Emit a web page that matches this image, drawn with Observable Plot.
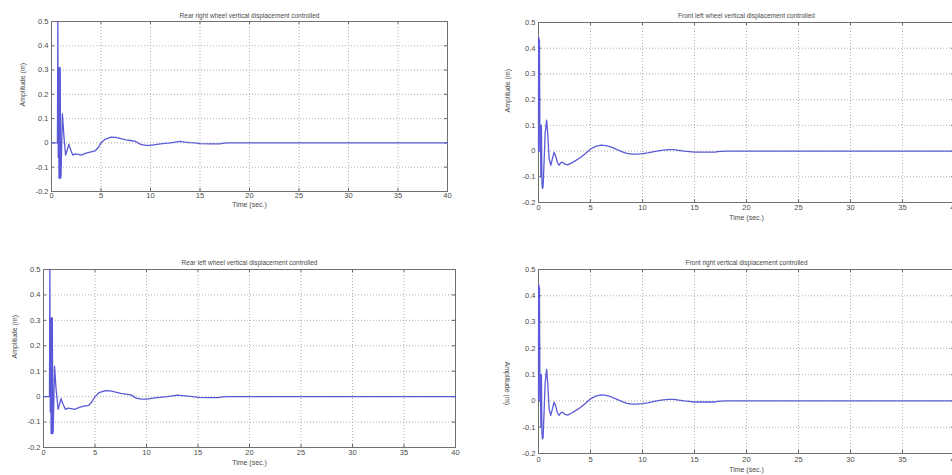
<!DOCTYPE html>
<html>
<head>
<meta charset="utf-8">
<script src="https://cdn.jsdelivr.net/npm/d3@7"></script>
<script src="https://cdn.jsdelivr.net/npm/@observablehq/plot@0.6"></script>
<style>
  html, body { margin: 0; padding: 0; background: #fff; overflow: hidden; }
  #wrap { position: relative; width: 952px; height: 475px; overflow: hidden; background: #fff; }
  .panel { position: absolute; }
  .panel svg { overflow: visible; max-width: none !important; }
</style>
</head>
<body>
<div id="wrap"></div>
<script>
// ---- Data ----
const titles = [
  "Rear right wheel vertical displacement controlled",
  "Front left wheel vertical displacement controlled",
  "Rear left wheel vertical displacement controlled",
  "Front right vertical displacement controlled"
];
const xLabel = "Time (sec.)";
const yLabel = "Amplitude (m)";
const xTicks = [0, 5, 10, 15, 20, 25, 30, 35, 40];
const xTickLabels = ["0", "5", "10", "15", "20", "25", "30", "35", "40"];
const yTicks = [-0.2, -0.1, 0, 0.1, 0.2, 0.3, 0.4, 0.5];
const yTickLabels = ["-0.2", "-0.1", "0", "0.1", "0.2", "0.3", "0.4", "0.5"];

// Rear right wheel
const timeRR = [0, 0.6, 0.64, 0.68, 0.72, 0.76, 0.8, 0.84, 0.88, 0.92, 0.96,
  1.1, 1.25, 1.42, 1.58, 1.75, 1.95, 2.15, 2.4, 2.7, 3.0,
  3.5, 4.0, 4.4, 4.7, 5.0, 5.4, 6.0, 6.5, 7.0, 7.5,
  8.0, 8.5, 9.0, 9.5, 10, 10.5, 11, 11.5, 12, 12.5,
  13, 13.5, 14, 14.5, 15, 16, 17, 17.4, 18, 40];
const ampRR = [0, 0, 0.5, -0.06, 0.31, -0.145, 0.31, -0.145, 0.31, -0.145, -0.14,
  0.12, 0.03, -0.05, -0.03, -0.005, -0.03, -0.05, -0.045, -0.047, -0.05,
  -0.042, -0.037, -0.033, -0.02, 0.0, 0.015, 0.024, 0.023, 0.018, 0.013,
  0.01, 0.006, -0.006, -0.01, -0.01, -0.007, -0.004, -0.002, 0.0, 0.003,
  0.006, 0.003, 0.001, 0.0, -0.003, -0.004, -0.004, -0.001, 0, 0];

// Rear left wheel
const timeRL = [0, 0.58, 0.62, 0.66, 0.7, 0.74, 0.78, 0.82, 0.86, 0.9, 0.94,
  1.07, 1.22, 1.42, 1.56, 1.7, 1.9, 2.13, 2.4, 2.7, 3.0,
  3.5, 3.9, 4.4, 4.7, 5.0, 5.4, 6.0, 6.5, 7.0, 7.5,
  8.0, 8.5, 9.0, 9.5, 10, 10.5, 11, 11.5, 12, 12.5,
  13, 13.5, 14, 14.5, 15, 16, 17, 17.4, 18, 40];
const ampRL = [0, 0, 0.5, -0.06, 0.31, -0.145, 0.31, -0.145, 0.31, -0.145, -0.14,
  0.12, 0.03, -0.05, -0.03, -0.008, -0.03, -0.05, -0.045, -0.047, -0.05,
  -0.042, -0.037, -0.034, -0.02, 0.0, 0.016, 0.024, 0.023, 0.018, 0.013,
  0.01, 0.007, -0.006, -0.01, -0.01, -0.007, -0.004, -0.002, 0.0, 0.003,
  0.006, 0.004, 0.002, 0.0, -0.003, -0.004, -0.004, -0.001, 0, 0];

// Front left wheel
const timeFL = [0, 0.01, 0.03, 0.05, 0.07, 0.09, 0.11, 0.14, 0.18, 0.23, 0.28, 0.33, 0.38, 0.44,
  0.52, 0.64, 0.78, 0.9, 1.02, 1.18, 1.34, 1.5, 1.66, 1.82, 1.98, 2.15, 2.3, 2.5, 2.8,
  3.2, 3.6, 4.0, 4.5, 5.0, 5.5, 6.0, 6.5, 7.0, 7.5, 8.0, 8.5, 9.0, 9.5, 10, 10.5, 11,
  11.5, 12, 12.5, 13, 13.5, 14, 14.5, 15, 16, 17, 17.2, 18, 40];
const ampFL = [0, 0.44, 0.27, 0.44, 0.27, 0.43, 0.27, 0.0, 0.1, -0.1, 0.1, -0.12, -0.145, -0.14,
  -0.06, 0.07, 0.12, 0.06, -0.03, -0.055, -0.03, -0.005, -0.02, -0.045, -0.055, -0.045, -0.043, -0.05, -0.054,
  -0.046, -0.036, -0.026, -0.01, 0.008, 0.018, 0.023, 0.021, 0.015, 0.007, -0.002, -0.009, -0.012, -0.012, -0.01, -0.007, -0.003,
  0.001, 0.004, 0.006, 0.006, 0.003, 0.0, -0.002, -0.004, -0.004, -0.004, -0.002, 0, 0];

// Front right wheel
const timeFR = [0, 0.01, 0.03, 0.05, 0.07, 0.09, 0.11, 0.14, 0.18, 0.23, 0.28, 0.33, 0.38, 0.44,
  0.52, 0.64, 0.78, 0.9, 1.02, 1.18, 1.34, 1.5, 1.66, 1.82, 1.98, 2.15, 2.3, 2.5, 2.8,
  3.2, 3.6, 4.0, 4.5, 5.0, 5.5, 6.0, 6.5, 7.0, 7.5, 8.0, 8.5, 9.0, 9.5, 10, 10.5, 11,
  11.5, 12, 12.5, 13, 13.5, 14, 14.5, 15, 16, 17, 17.2, 18, 40];
const ampFR = [0, 0.44, 0.27, 0.44, 0.27, 0.43, 0.27, 0.0, 0.1, -0.1, 0.1, -0.12, -0.145, -0.14,
  -0.06, 0.07, 0.12, 0.06, -0.03, -0.055, -0.03, -0.005, -0.02, -0.045, -0.055, -0.045, -0.043, -0.05, -0.054,
  -0.046, -0.036, -0.026, -0.01, 0.008, 0.018, 0.023, 0.021, 0.015, 0.007, -0.002, -0.009, -0.012, -0.012, -0.01, -0.007, -0.003,
  0.001, 0.004, 0.006, 0.006, 0.003, 0.0, -0.002, -0.004, -0.004, -0.004, -0.002, 0, 0];

// ---- Layout ----
const FONT = "'Liberation Sans', Arial, sans-serif";
const TXT = "#4a4a4a";
const LINE = "#5a5ad8";

const panels = [
  {title: titles[0], t: timeRR, v: ampRR, left: 0, top: 0, width: 460, height: 215,
   mL: 51, mR: 13, mT: 21, mB: 24, xPad: 1.5, titleDy: -8, timeDy: 15, yLabDx: -29, yRot: -90},
  {title: titles[1], t: timeFL, v: ampFL, left: 470, top: 0, width: 490, height: 230,
   mL: 68, mR: 6, mT: 22, mB: 28, xPad: 2.5, titleDy: -9, timeDy: 17, yLabDx: -31, yRot: -90},
  {title: titles[2], t: timeRL, v: ampRL, left: 0, top: 240, width: 465, height: 235,
   mL: 43, mR: 10, mT: 29, mB: 28, xPad: 2.5, titleDy: -9, timeDy: 17.5, yLabDx: -29, yRot: -90},
  {title: titles[3], t: timeFR, v: ampFR, left: 470, top: 240, width: 490, height: 235,
   mL: 68, mR: 6, mT: 29, mB: 22, xPad: 3.5, titleDy: -9, timeDy: 18.5, yLabDx: -31, yRot: 90}
];

const wrap = document.getElementById("wrap");

for (const p of panels) {
  const plotH = p.height - p.mT - p.mB;
  const plotW = p.width - p.mL - p.mR;
  const xTickLen = 3 / plotH * 0.7;   // inward tick length in y units
  const yTickLen = 3 / plotW * 40;    // inward tick length in x units
  const chart = Plot.plot({
    width: p.width,
    height: p.height,
    marginLeft: p.mL,
    marginRight: p.mR,
    marginTop: p.mT,
    marginBottom: p.mB,
    style: {fontFamily: FONT, background: "transparent", color: TXT, maxWidth: "none"},
    x: {domain: [0, 40], label: null},
    y: {domain: [-0.2, 0.5], label: null},
    marks: [
      Plot.ruleX(xTicks.slice(1, -1), {x: d => d, stroke: "#9a9a9a", strokeDasharray: "1,2", strokeWidth: 0.8}),
      Plot.ruleY(yTicks.slice(1, -1), {y: d => d, stroke: "#9a9a9a", strokeDasharray: "1,2", strokeWidth: 0.8}),
      // inward ticks on all four sides
      Plot.ruleX(xTicks, {x: d => d, y1: -0.2, y2: -0.2 + xTickLen, stroke: "#666"}),
      Plot.ruleX(xTicks, {x: d => d, y1: 0.5, y2: 0.5 - xTickLen, stroke: "#666"}),
      Plot.ruleY(yTicks, {y: d => d, x1: 0, x2: yTickLen, stroke: "#666"}),
      Plot.ruleY(yTicks, {y: d => d, x1: 40, x2: 40 - yTickLen, stroke: "#666"}),
      Plot.frame({stroke: "#707070", strokeWidth: 1}),
      Plot.line(p.t, {x: p.t, y: p.v, stroke: LINE, strokeWidth: 1.3, curve: "linear"}),
      Plot.axisX(xTicks, {tickSize: 0, tickPadding: p.xPad, fontSize: 7.5, fill: TXT,
        tickFormat: (d, i) => xTickLabels[i], label: null}),
      Plot.axisY(yTicks, {tickSize: 0, tickPadding: 3, fontSize: 7.5, fill: TXT,
        tickFormat: (d, i) => yTickLabels[i], label: null}),
      Plot.text([p.title], {text: d => d, frameAnchor: "top", dy: p.titleDy, fontSize: 6.5, fill: TXT}),
      Plot.text([xLabel], {text: d => d, frameAnchor: "bottom", dy: p.timeDy, fontSize: 7, fill: TXT}),
      Plot.text([yLabel], {text: d => d, frameAnchor: "left", dx: p.yLabDx, rotate: p.yRot, fontSize: 7, fill: TXT})
    ]
  });
  const div = document.createElement("div");
  div.className = "panel";
  div.style.left = p.left + "px";
  div.style.top = p.top + "px";
  div.style.width = p.width + "px";
  div.style.height = p.height + "px";
  div.appendChild(chart);
  wrap.appendChild(div);
}
</script>
</body>
</html>
